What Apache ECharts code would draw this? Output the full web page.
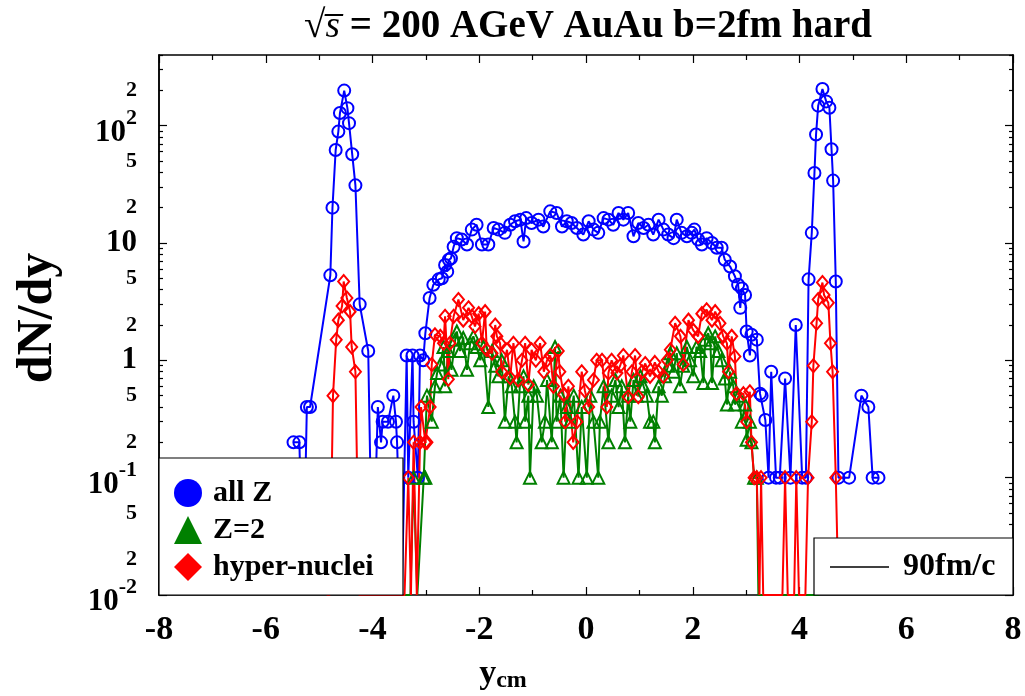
<!DOCTYPE html>
<html><head><meta charset="utf-8">
<script src="https://cdn.jsdelivr.net/npm/echarts@6/dist/echarts.min.js"></script>
<style>html,body{margin:0;padding:0;background:#fff}#c{width:1025px;height:696px}</style>
</head><body><div id="c"></div>
<script>
// ---------- data ----------
const titleMain = ' = 200 AGeV AuAu b=2fm hard';
const xTickValues = [-8, -6, -4, -2, 0, 2, 4, 6, 8];
const yLabelValues = [0.01, 0.02, 0.05, 0.1, 0.2, 0.5, 1, 2, 5, 10, 20, 50, 100, 200];
const yDecades = [0.01, 0.1, 1, 10, 100];
const seriesNames = ['all Z', 'Z=2', 'hyper-nuclei'];
const timeLabel = '90fm/c';

// all charged fragments (dN/dy), 0 = empty bin
const allZ = [
[-5.48,0.2],[-5.37,0.2],[-5.30,0],[-5.23,0.4],[-5.17,0.4],
[-4.79,5.3],[-4.75,20],[-4.69,62],[-4.64,89],[-4.61,128],[-4.53,199],[-4.47,141],[-4.44,105],[-4.38,57],[-4.32,31],[-4.24,3.0],[-4.08,1.2],
[-4.00,0],[-3.90,0.4],[-3.84,0.2],[-3.81,0.3],[-3.71,0.3],[-3.61,0.5],[-3.56,0.3],[-3.54,0.2],[-3.45,0],
[-3.36,1.1],[-3.33,0.1],[-3.25,1.1],[-3.23,0.3],[-3.15,0.1],[-3.11,1.1],[-3.05,1.0],[-3.01,1.7],[-2.93,3.4],[-2.86,4.4],[-2.76,4.9],[-2.70,5.0],
[-2.64,6.5],[-2.60,5.7],[-2.57,7.2],[-2.53,7.4],[-2.48,9.3],[-2.42,11],[-2.33,10.7],[-2.23,9.7],[-2.14,13],[-2.05,14.3],[-1.95,9.7],[-1.83,9.7],
[-1.73,13.4],[-1.64,13.0],[-1.52,12.2],[-1.42,14.3],[-1.33,15.3],[-1.23,15.8],[-1.17,10.3],[-1.12,16.3],[-1.02,14.8],[-0.89,15.8],[-0.80,13.8],
[-0.67,18.6],[-0.55,18.0],[-0.45,13.8],[-0.36,15.3],[-0.27,14.8],[-0.17,13.4],[-0.05,11.8],[0.05,15.3],[0.14,13.0],[0.23,12.2],[0.33,16.3],
[0.42,15.8],[0.51,14.3],[0.61,18.0],[0.70,15.8],[0.79,18.0],[0.89,11.4],[0.98,14.8],[1.08,13.4],[1.17,14.3],[1.26,11.8],[1.36,15.8],[1.45,13.0],
[1.54,11.8],[1.64,11.0],[1.70,15.8],[1.79,12.2],[1.89,11.4],[1.98,12.2],[2.03,13.0],[2.10,10.7],[2.17,9.7],[2.26,11.0],[2.36,10.0],[2.45,9.1],
[2.54,9.1],[2.60,7.2],[2.70,6.3],[2.79,5.2],[2.85,4.4],[2.89,2.8],[2.92,4.1],[2.98,3.6],[3.01,1.76],[3.07,1.1],[3.10,1.65],[3.20,1.5],
[3.26,0.52],[3.29,0.5],[3.36,0.31],[3.42,0.1],[3.47,0.8],[3.56,0.1],[3.63,0.1],[3.73,0.7],[3.83,0.1],[3.93,2.0],[4.05,0.1],[4.12,0.1],
[4.17,4.9],[4.23,12.2],[4.28,39.5],[4.31,84],[4.35,148],[4.43,205],[4.50,161],[4.56,142],[4.60,63],[4.63,34],[4.68,4.7],[4.73,0.1],
[4.93,0.1],[5.16,0.5],[5.29,0.4],[5.37,0.1],[5.48,0.1]
];

// Z=2 fragments
const z2 = [
[-3.60,0],[-3.35,0],[-3.29,0],[-3.23,0.1],[-3.16,0],[-3.04,0.1],[-3.01,0.1],[-2.98,0.5],[-2.89,0.3],[-2.83,0.6],[-2.79,0.78],[-2.73,0.92],
[-2.67,1.3],[-2.64,0.6],[-2.58,1.2],[-2.52,0.83],[-2.45,1.5],[-2.42,1.76],[-2.36,1.2],[-2.30,1.55],[-2.23,0.83],[-2.17,1.4],[-2.11,1.6],
[-2.05,1.3],[-1.98,1.0],[-1.92,1.3],[-1.83,0.4],[-1.76,1.2],[-1.70,0.9],[-1.64,0.73],[-1.58,1.0],[-1.52,0.3],[-1.45,0.73],[-1.39,0.6],
[-1.33,0.3],[-1.30,0.2],[-1.24,0.6],[-1.17,0.73],[-1.14,0.3],[-1.08,0.5],[-1.05,0.1],[-0.98,0.6],[-0.92,0.5],[-0.83,0.2],[-0.77,0.3],
[-0.73,0.68],[-0.64,0.2],[-0.58,1.3],[-0.55,0.3],[-0.48,0.5],[-0.42,0.1],[-0.36,0.4],[-0.30,0.3],[-0.23,0.5],[-0.14,0.1],[-0.08,0.4],
[0.015,0.1],[0.08,0.5],[0.14,0.3],[0.23,0.1],[0.26,0.3],[0.33,0.6],[0.42,0.2],[0.48,0.5],[0.55,0.68],[0.61,0.4],[0.67,0.6],[0.73,0.2],
[0.79,0.5],[0.83,0.3],[0.89,0.68],[0.95,0.5],[1.02,0.73],[1.08,0.6],[1.14,0.5],[1.20,0.3],[1.26,0.3],[1.29,0.2],[1.36,0.6],[1.42,0.5],
[1.48,0.73],[1.54,0.9],[1.58,1.15],[1.64,0.8],[1.70,1.15],[1.76,0.6],[1.82,0.9],[1.89,1.3],[1.95,1.0],[2.01,0.73],[2.07,1.3],[2.14,1.2],
[2.20,0.64],[2.23,1.5],[2.29,1.7],[2.33,1.4],[2.36,0.64],[2.42,1.6],[2.48,1.2],[2.54,1.0],[2.60,0.7],[2.64,0.42],[2.70,0.8],[2.76,0.6],
[2.79,0.42],[2.86,0.5],[2.92,0.3],[2.98,0.42],[3.01,0.21],[3.07,0.3],[3.10,0.2],[3.15,0.1],[3.20,0.1],[3.23,0],[4.37,0]
];

// hyper-nuclei
const hyper = [
[-4.86,0],[-4.80,0],[-4.74,0.5],[-4.68,1.5],[-4.64,2.2],[-4.57,2.9],[-4.54,4.7],[-4.48,3.4],[-4.42,2.6],[-4.39,1.3],[-4.32,0.8],[-4.25,0],
[-3.40,0],[-3.33,0.1],[-3.28,0],[-3.23,0.2],[-3.17,0],[-3.11,0.2],[-3.09,0.4],[-3.01,0.2],[-2.98,0.2],[-2.92,0.4],[-2.89,0.92],[-2.83,1.65],
[-2.73,1.6],[-2.67,1.4],[-2.64,2.37],[-2.58,0.69],[-2.55,1.4],[-2.48,2.37],[-2.39,3.3],[-2.30,2.2],[-2.20,2.8],[-2.14,2.37],[-2.08,1.94],
[-2.01,2.5],[-1.95,1.4],[-1.89,2.6],[-1.86,1.23],[-1.76,1.15],[-1.70,2.0],[-1.67,1.6],[-1.61,1.4],[-1.58,0.8],[-1.48,1.23],[-1.42,0.71],
[-1.36,1.4],[-1.27,0.68],[-1.20,1.0],[-1.14,1.4],[-1.08,0.62],[-1.02,1.23],[-0.94,1.0],[-0.86,1.4],[-0.79,0.8],[-0.73,1.0],[-0.67,1.1],
[-0.61,0.6],[-0.52,1.2],[-0.49,0.8],[-0.42,0.51],[-0.39,0.3],[-0.33,0.6],[-0.24,0.2],[-0.17,0.3],[-0.08,0.8],[-0.02,0.55],[0.05,0.4],
[0.14,0.68],[0.20,1.0],[0.30,1.0],[0.39,0.4],[0.42,0.78],[0.48,1.0],[0.58,0.78],[0.64,0.9],[0.70,1.1],[0.79,0.49],[0.86,0.8],[0.92,1.1],
[0.98,0.49],[1.05,0.8],[1.11,0.94],[1.20,0.73],[1.29,0.96],[1.36,0.8],[1.45,0.73],[1.52,1.0],[1.58,1.23],[1.67,2.07],[1.77,1.6],[1.82,0.92],
[1.92,2.2],[2.01,1.8],[2.10,1.6],[2.17,2.5],[2.26,2.7],[2.36,2.2],[2.42,2.6],[2.51,2.07],[2.57,1.6],[2.64,1.4],[2.67,0.8],[2.73,1.6],
[2.79,1.08],[2.82,0.52],[2.95,0.52],[3.01,0.3],[3.07,0.54],[3.10,0.2],[3.15,0.1],[3.20,0.1],[3.25,0],[3.28,0.1],[3.32,0],[3.68,0],
[3.73,0.1],[3.78,0],[3.90,0],[3.94,0.1],[3.99,0],[4.11,0],[4.16,0.1],[4.23,0.3],[4.26,0.9],[4.32,2.07],[4.35,3.3],[4.43,4.6],[4.46,3.6],
[4.54,3.1],[4.58,1.4],[4.62,0.8],[4.68,0.1],[4.73,0]
];

// ---------- chart ----------
const F = 'Liberation Serif';
const Y_MIN = 0.01, Y_MAX = 400;
const BLUE = '#0000ff', GREEN = '#008000', RED = '#ff0000';

// minor tick values 2..9 x decade
const yMinor = [];
yDecades.forEach(d => { for (let k = 2; k <= 9; k++) { const v = +(d * k).toPrecision(3); if (v <= Y_MAX) yMinor.push(v); } });

// empty bins are drawn at the bottom of the frame (clipped, as in log plots)
function toItems(arr) {
  return arr.map(p => p[1] > 0 ? { value: [p[0], p[1]] } : { value: [p[0], Y_MIN], symbol: 'none' });
}

function yFmt(v) {
  const e = Math.floor(Math.log10(v) + 1e-9);
  const m = Math.round(v / Math.pow(10, e));
  if (m === 1) {
    if (e === 0) return '{d|1}';
    if (e === 1) return '{d|10}';
    return '{e|10}{s|' + e + '}';
  }
  return '{m|' + m + '}';
}

const lblStyle = { fontFamily: F, fontWeight: 'bold', color: '#000' };
function yAxisDef(pos, major, showLabel) {
  return {
    type: 'log', logBase: 10, min: Y_MIN, max: Y_MAX, position: pos,
    axisLine: { show: true, onZero: false, lineStyle: { color: '#000', width: 1.5 } },
    axisTick: { show: true, inside: true, length: major ? 8 : 4, customValues: major ? yDecades : yMinor,
                lineStyle: { color: '#000', width: 1.2 } },
    axisLabel: showLabel ? {
      show: true, customValues: yLabelValues, formatter: yFmt, margin: 22,
      rich: {
        d: Object.assign({ fontSize: 31 }, lblStyle),
        e: Object.assign({ fontSize: 31, padding: [14, 0, 0, 0] }, lblStyle),
        s: Object.assign({ fontSize: 22, verticalAlign: 'top', padding: [4, 0, 0, 0] }, lblStyle),
        m: Object.assign({ fontSize: 22 }, lblStyle)
      }
    } : { show: false },
    splitLine: { show: false }, minorTick: { show: false }
  };
}
function xAxisDef(pos, showLabel) {
  return {
    type: 'value', min: -8, max: 8, interval: 2, position: pos,
    axisLine: { show: true, onZero: false, lineStyle: { color: '#000', width: 1.5 } },
    axisTick: { show: true, inside: true, length: 8, lineStyle: { color: '#000', width: 1.2 } },
    minorTick: { show: true, splitNumber: 2, length: 5, lineStyle: { color: '#000', width: 1.2 } },
    axisLabel: showLabel ? Object.assign({ show: true, fontSize: 34, margin: 18,
      customValues: xTickValues, formatter: v => String(v) }, lblStyle) : { show: false },
    splitLine: { show: false }
  };
}

function lineSeries(name, data, color, symbol, size) {
  return {
    type: 'line', name: name, data: toItems(data), xAxisIndex: 0, yAxisIndex: 0,
    symbol: symbol, symbolSize: size, showAllSymbol: true, clip: true,
    lineStyle: { color: color, width: 2 },
    itemStyle: { color: 'rgba(0,0,0,0)', borderColor: color, borderWidth: 2 },
    emphasis: { disabled: true }, animation: false
  };
}

const chart = echarts.init(document.getElementById('c'), null, { renderer: 'canvas' });
chart.setOption({
  backgroundColor: '#fff',
  animation: false,
  grid: { left: 159, right: 12, top: 55, bottom: 101, containLabel: false },
  xAxis: [xAxisDef('bottom', true), xAxisDef('top', false)],
  yAxis: [yAxisDef('left', true, true), yAxisDef('left', false, false),
          yAxisDef('right', true, false), yAxisDef('right', false, false)],
  series: [
    lineSeries(seriesNames[0], allZ, BLUE, 'circle', 12),
    lineSeries(seriesNames[1], z2, GREEN, 'triangle', 12),
    lineSeries(seriesNames[2], hyper, RED, 'diamond', [11, 13])
  ],
  legend: {
    orient: 'vertical', left: 174, top: 478, itemWidth: 28, itemHeight: 28, itemGap: 7,
    selectedMode: false, z: 60, padding: 0,
    textStyle: { fontFamily: F, fontWeight: 'bold', fontSize: 30, color: '#000', padding: [0, 0, 0, 6] },
    data: [
      { name: seriesNames[0], icon: 'circle', itemStyle: { color: BLUE, borderWidth: 0 } },
      { name: seriesNames[1], icon: 'triangle', itemStyle: { color: GREEN, borderWidth: 0 } },
      { name: seriesNames[2], icon: 'diamond', itemStyle: { color: RED, borderWidth: 0 } }
    ]
  },
  graphic: [
    { type: 'rect', z: 50, shape: { x: 159, y: 458, width: 244, height: 137 },
      style: { fill: '#fff', stroke: '#000', lineWidth: 1.2 } },
    { type: 'rect', z: 50, shape: { x: 814, y: 538, width: 199, height: 57 },
      style: { fill: '#fff', stroke: '#000', lineWidth: 1.2 } },
    { type: 'line', z: 51, shape: { x1: 830, y1: 567, x2: 889, y2: 567 },
      style: { stroke: '#000', lineWidth: 1.3 } },
    { type: 'text', z: 51, x: 903, y: 567,
      style: { text: timeLabel, font: 'bold 32px "Liberation Serif"', fill: '#000', align: 'left', verticalAlign: 'middle' } },
    { type: 'text', z: 51, x: 588, y: 27,
      style: { text: '{r|√}{i|s\u0305}{t|' + titleMain + '}', align: 'center', verticalAlign: 'middle',
        rich: {
          r: { fontFamily: F, fontSize: 39, fill: '#000' },
          i: { fontFamily: F, fontStyle: 'italic', fontSize: 37, fill: '#000' },
          t: { fontFamily: F, fontWeight: 'bold', fontSize: 39, fill: '#000' }
        } } },
    { type: 'text', z: 51, x: 38, y: 318, rotation: Math.PI / 2,
      style: { text: 'dN/dy', font: 'bold 50px "Liberation Serif"', fill: '#000', align: 'center', verticalAlign: 'middle' } },
    { type: 'text', z: 51, x: 503, y: 674,
      style: { text: '{y|y}{c|cm}', align: 'center', verticalAlign: 'middle',
        rich: {
          y: { fontFamily: F, fontWeight: 'bold', fontSize: 34, fill: '#000' },
          c: { fontFamily: F, fontWeight: 'bold', fontSize: 24, fill: '#000', padding: [14, 0, 0, 0] }
        } } }
  ]
});
</script></body></html>
